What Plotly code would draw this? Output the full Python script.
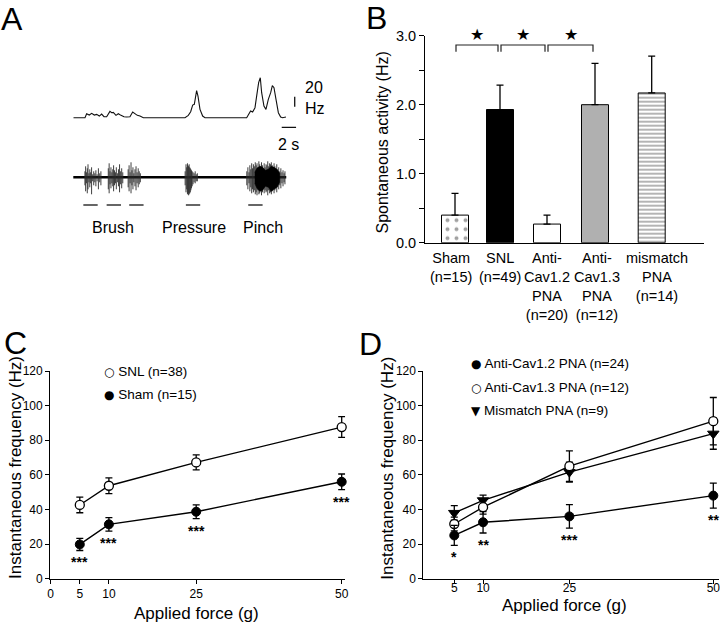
import plotly.graph_objects as go

W, H = 720, 624
FONT = "Liberation Sans, Arial, Helvetica, sans-serif"

# ---------------- Panel A data ----------------
# instantaneous firing rate (Hz) vs time (s)
RATE_T = [0, 1.63, 1.86, 2.23, 2.56, 2.93, 3.26, 3.63, 3.95, 4.28, 4.65, 5.11, 5.35, 5.58,
          5.95, 6.28, 6.65, 7.07, 7.44, 7.90, 8.28, 8.60, 8.93, 9.30, 9.77, 15.58, 16.04,
          16.37, 16.65, 16.88, 17.11, 17.20, 17.39, 17.67, 18.04, 18.37, 24.18, 24.50,
          24.73, 25.01, 25.34, 25.57, 25.85, 26.08, 26.27, 26.59, 26.87, 27.20, 27.53,
          27.76, 27.99, 28.27, 28.60, 28.92, 29.20, 29.66]
RATE_HZ = [0, 0, 8, 5.3, 8.7, 5.3, 6.7, 3.3, 7.3, 2, 2, 12.7, 10, 10.7,
           4.7, 8, 4.7, 2, 1.3, 2, 11.3, 7.3, 4.7, 3.3, 0, 0, 4.7,
           12, 25.3, 26.7, 43.3, 54, 43.3, 16.7, 3.3, 0, 0, 7.3,
           13.3, 11.3, 20, 43.3, 70, 80, 50, 23.3, 16.7, 36.7, 50,
           64, 60, 36.7, 10, 1.3, 0, 1.3]

# raw extracellular recording: individual spikes (time s, upward / downward deflection)
SPIKE_T = [1.62, 1.72, 1.83, 1.95, 2.05, 2.18, 2.30, 2.42, 2.55, 2.70, 2.85, 3.00, 3.15, 3.32, 3.50, 3.68, 3.85,
           4.88, 5.00, 5.12, 5.25, 5.38, 5.50, 5.62, 5.75, 5.88, 6.00, 6.15, 6.30, 6.45, 6.60, 6.75, 6.90,
           7.65, 7.78, 7.92, 8.05, 8.18, 8.32, 8.45, 8.60, 8.75, 8.90, 9.05, 9.20, 9.35,
           15.60, 15.72, 15.82, 15.92, 16.00, 16.08, 16.16, 16.24, 16.32, 16.40, 16.48, 16.58, 16.70,
           16.85, 17.00, 17.15, 17.30,
           24.20, 24.35, 24.50, 24.62, 24.75, 24.88, 25.00, 25.12, 25.25, 25.38, 25.50, 25.62, 25.75,
           25.88, 26.00, 26.12, 26.25, 26.38, 26.50, 26.62, 26.75, 26.88, 27.00, 27.12, 27.25, 27.38,
           27.50, 27.62, 27.75, 27.88, 28.00, 28.12, 28.25, 28.38, 28.50, 28.65, 28.80, 28.95, 29.10,
           29.25, 29.40, 29.52]
SPIKE_UP = [6, 11, 5, 9, 13, 4, 8, 5, 10, 3, 6, 4, 7, 3, 9, 4, 6,
            9, 14, 6, 10, 5, 8, 12, 7, 5, 10, 4, 8, 13, 6, 9, 5,
            8, 12, 5, 15, 7, 10, 4, 8, 11, 5, 9, 6, 4,
            6, 13, 10, 14, 12, 11, 13, 10, 9, 8, 7, 6, 5,
            4, 6, 3, 4,
            6, 10, 5, 12, 8, 14, 9, 13, 11, 15, 12, 14, 10,
            16, 13, 11, 15, 12, 9, 14, 10, 13, 12, 16, 11, 14,
            13, 15, 12, 10, 14, 11, 9, 13, 8, 10, 6, 9, 5,
            7, 4, 6]
SPIKE_DN = [8, 14, 6, 16, 12, 5, 10, 6, 17, 4, 8, 5, 9, 4, 12, 5, 8,
            12, 16, 7, 11, 6, 9, 14, 8, 6, 12, 5, 9, 15, 7, 11, 6,
            10, 14, 6, 16, 8, 12, 5, 9, 13, 6, 10, 7, 5,
            8, 15, 12, 17, 16, 18, 17, 16, 15, 13, 11, 9, 7,
            5, 6, 4, 4,
            8, 12, 6, 14, 10, 16, 12, 15, 13, 17, 15, 18, 13,
            17, 16, 14, 18, 15, 12, 16, 13, 15, 14, 18, 13, 16,
            15, 17, 14, 12, 16, 13, 11, 15, 10, 12, 8, 11, 6,
            9, 5, 7]
# dense (unresolved) part of the pinch response
PINCH_ENV_T = [25.3, 25.6, 26.0, 26.4, 26.8, 27.2, 27.6, 28.0, 28.4, 28.8]
PINCH_ENV_UP = [5, 9, 11, 10, 7, 8, 11, 10, 8, 4]
PINCH_ENV_DN = [6, 11, 14, 13, 9, 10, 14, 12, 10, 5]
RAW_START, RAW_END = -0.2, 29.7

STIM_START = [1.4, 4.65, 7.8, 15.7, 24.4]
STIM_DUR = 2.0
STIM_LABELS = ["Brush", "Pressure", "Pinch"]
STIM_LABEL_T = [5.6, 16.8, 26.5]
SCALE_HZ = 20
SCALE_S = 2

# ---------------- Panel B data ----------------
B_GROUPS = ["Sham", "SNL", "Anti-Cav1.2 PNA", "Anti-Cav1.3 PNA", "mismatch PNA"]
B_LABELS = ["Sham<br>(n=15)", "SNL<br>(n=49)", "Anti-<br>Cav1.2<br>PNA<br>(n=20)",
            "Anti-<br>Cav1.3<br>PNA<br>(n=12)", "mismatch<br>PNA<br>(n=14)"]
B_MEAN = [0.40, 1.93, 0.27, 2.00, 2.17]
B_SEM = [0.315, 0.355, 0.13, 0.60, 0.535]
B_SIG_PAIRS = [(0, 1), (1, 2), (2, 3)]

# ---------------- Panel C / D data ----------------
FORCE = [5, 10, 25, 50]
C_SNL_MEAN = [42.6, 53.7, 67.2, 87.6]
C_SNL_SEM = [4.5, 4.6, 4.3, 6.0]
C_SHAM_MEAN = [19.8, 31.4, 38.7, 56.0]
C_SHAM_SEM = [3.5, 3.9, 4.0, 4.5]
C_SIG = ["***", "***", "***", "***"]

D_CAV12_MEAN = [25.0, 32.6, 36.0, 48.0]
D_CAV12_SEM = [5.8, 6.2, 6.8, 7.2]
D_CAV13_MEAN = [31.6, 41.3, 65.0, 91.0]
D_CAV13_SEM = [4.0, 4.0, 8.8, 13.7]
D_MIS_MEAN = [38.0, 45.3, 61.6, 83.8]
D_MIS_SEM = [4.2, 3.0, 5.8, 9.0]
D_SIG = ["*", "**", "***", "**"]


# ---------------- helpers ----------------
def xd(a, b):
    return [a / W, b / W]


def yd(top, bottom):
    return [1 - bottom / H, 1 - top / H]


def px(x):
    return x / W


def py(y):
    return 1 - y / H


fig = go.Figure()
annotations = []


def text(xp, yp, s, size, xanchor="center", yanchor="middle", angle=0, family=FONT, **kw):
    annotations.append(dict(x=px(xp), y=py(yp), xref="paper", yref="paper", text=s,
                            showarrow=False, xanchor=xanchor, yanchor=yanchor, textangle=angle,
                            font=dict(size=size, family=family, color="black"), **kw))


# ---------------- Panel A ----------------
fig.add_trace(go.Scatter(x=RATE_T, y=RATE_HZ, xaxis="x", yaxis="y", mode="lines",
                         line=dict(color="#111", width=1.1), showlegend=False, hoverinfo="skip"))
# scale bars
SB_T = 29.07
fig.add_trace(go.Scatter(x=[SB_T, SB_T + SCALE_S], y=[-19.2, -19.2], xaxis="x", yaxis="y",
                         mode="lines", line=dict(color="#111", width=1.3), showlegend=False))
fig.add_trace(go.Scatter(x=[30.88, 30.88], y=[22, 22 + SCALE_HZ], xaxis="x", yaxis="y",
                         mode="lines", line=dict(color="#111", width=1.3), showlegend=False))

fig.add_trace(go.Scatter(x=[RAW_START, RAW_END], y=[0, 0], xaxis="x2", yaxis="y2", mode="lines",
                         line=dict(color="black", width=2.6), showlegend=False))
sx, sy = [], []
for t, u, d in zip(SPIKE_T, SPIKE_UP, SPIKE_DN):
    sx += [t, t, None]
    sy += [u, -d, None]
fig.add_trace(go.Scatter(x=sx, y=sy, xaxis="x2", yaxis="y2", mode="lines",
                         line=dict(color="#2a2a2a", width=0.9), showlegend=False))
fig.add_trace(go.Scatter(x=PINCH_ENV_T + PINCH_ENV_T[::-1],
                         y=PINCH_ENV_UP + [-v for v in PINCH_ENV_DN[::-1]],
                         xaxis="x2", yaxis="y2", mode="lines", fill="toself",
                         fillcolor="black", line=dict(color="black", width=0.5), showlegend=False))
bx, by = [], []
for s in STIM_START:
    bx += [s, s + STIM_DUR, None]
    by += [-27.7, -27.7, None]
fig.add_trace(go.Scatter(x=bx, y=by, xaxis="x2", yaxis="y2", mode="lines",
                         line=dict(color="#333", width=1.5), showlegend=False))
for lab, t in zip(STIM_LABELS, STIM_LABEL_T):
    annotations.append(dict(x=t, y=py(227.3), xref="x2", yref="paper", text=lab, showarrow=False,
                            xanchor="center", yanchor="middle",
                            font=dict(size=16, family=FONT, color="black")))
text(303, 88, "20", 16, xanchor="left")
text(303, 108, "Hz", 16, xanchor="left")
text(288.5, 144, "2 s", 16)

# ---------------- Panel B ----------------
BAR_POS = [30, 75, 122, 170, 226.7]
LABEL_POS = [25.8, 75, 121.7, 172.3, 231.5]
fig.add_trace(go.Bar(
    x=BAR_POS, y=B_MEAN, width=27, xaxis="x3", yaxis="y3", showlegend=False,
    name="Spontaneous activity", hovertext=B_GROUPS,
    marker=dict(color=["white", "black", "white", "#b0b0b0", "white"],
                line=dict(color="black", width=1),
                pattern=dict(shape=[".", "", "", "", "-"], fgcolor="black",
                             size=[9, 8, 8, 8, 4], solidity=[0.15, 0.3, 0.3, 0.3, 0.4],
                             fillmode="overlay")),
    error_y=dict(type="data", symmetric=False, array=B_SEM, arrayminus=[0] * len(B_SEM),
                 color="black", thickness=1.3, width=3.5)))
shapes = []
for i, j in B_SIG_PAIRS:
    x0, x1 = BAR_POS[i] + 1, BAR_POS[j] - 2
    shapes.append(dict(type="path", xref="x3", yref="y3",
                       path=f"M {x0},2.768 L {x0},2.865 L {x1},2.865 L {x1},2.768",
                       line=dict(color="#222", width=1.2)))
    annotations.append(dict(x=(x0 + x1) / 2, y=py(34), xref="x3", yref="paper", text="★",
                            showarrow=False, xanchor="center", yanchor="middle",
                            font=dict(size=16, family="DejaVu Sans", color="black")))
for lab, xpos in zip(B_LABELS, LABEL_POS):
    annotations.append(dict(x=xpos, y=py(247.5), xref="x3", yref="paper", text=lab,
                            showarrow=False, xanchor="center", yanchor="top", align="center",
                            font=dict(size=14.5, family=FONT, color="black")))
text(382, 142.5, "Spontaneous activity (Hz)", 16, angle=-90)


# ---------------- Panel C ----------------
def err(arr):
    return dict(type="data", array=arr, color="black", thickness=1.3, width=3.5)


def sym(ch):
    return f'<span style="font-family:DejaVu Sans;font-size:12px">{ch}</span>'


fig.add_trace(go.Scatter(x=FORCE, y=C_SHAM_MEAN, error_y=err(C_SHAM_SEM), xaxis="x4", yaxis="y4",
                         mode="lines+markers", name="Sham (n=15)", showlegend=False, cliponaxis=False,
                         line=dict(color="black", width=1.4),
                         marker=dict(symbol="circle", size=9, color="black",
                                     line=dict(color="black", width=1))))
fig.add_trace(go.Scatter(x=FORCE, y=C_SNL_MEAN, error_y=err(C_SNL_SEM), xaxis="x4", yaxis="y4",
                         mode="lines+markers", name="SNL (n=38)", showlegend=False, cliponaxis=False,
                         line=dict(color="black", width=1.4),
                         marker=dict(symbol="circle", size=9, color="white",
                                     line=dict(color="black", width=1.3))))
for f, m, s, sig in zip(FORCE, C_SHAM_MEAN, C_SHAM_SEM, C_SIG):
    annotations.append(dict(x=f, y=m - s, xref="x4", yref="y4", text=f"<b>{sig}</b>", showarrow=False,
                            xanchor="center", yanchor="middle", yshift=-12,
                            font=dict(size=14, family=FONT, color="black")))
text(102, 371.7, sym("○") + " SNL (n=38)", 13.5, xanchor="left")
text(102, 394.3, sym("●") + " Sham (n=15)", 13.5, xanchor="left")
text(15, 468, "Instantaneous frequency (Hz)", 17, angle=-90)
text(196.7, 613.3, "Applied force (g)", 17)

# ---------------- Panel D ----------------
fig.add_trace(go.Scatter(x=FORCE, y=D_MIS_MEAN, error_y=err(D_MIS_SEM), xaxis="x5", yaxis="y5",
                         mode="lines+markers", name="Mismatch PNA (n=9)", showlegend=False,
                         cliponaxis=False, line=dict(color="black", width=1.4),
                         marker=dict(symbol="triangle-down", size=10, color="black",
                                     line=dict(color="black", width=1))))
fig.add_trace(go.Scatter(x=FORCE, y=D_CAV13_MEAN, error_y=err(D_CAV13_SEM), xaxis="x5", yaxis="y5",
                         mode="lines+markers", name="Anti-Cav1.3 PNA (n=12)", showlegend=False,
                         cliponaxis=False, line=dict(color="black", width=1.4),
                         marker=dict(symbol="circle", size=9, color="white",
                                     line=dict(color="black", width=1.3))))
fig.add_trace(go.Scatter(x=FORCE, y=D_CAV12_MEAN, error_y=err(D_CAV12_SEM), xaxis="x5", yaxis="y5",
                         mode="lines+markers", name="Anti-Cav1.2 PNA (n=24)", showlegend=False,
                         cliponaxis=False, line=dict(color="black", width=1.4),
                         marker=dict(symbol="circle", size=9, color="black",
                                     line=dict(color="black", width=1))))
for f, m, s, sig in zip(FORCE, D_CAV12_MEAN, D_CAV12_SEM, D_SIG):
    annotations.append(dict(x=f, y=m - s, xref="x5", yref="y5", text=f"<b>{sig}</b>", showarrow=False,
                            xanchor="center", yanchor="middle", yshift=-12,
                            font=dict(size=14, family=FONT, color="black")))
text(468.5, 363.3, sym("●") + " Anti-Cav1.2 PNA (n=24)", 13.5, xanchor="left")
text(468.5, 387.3, sym("○") + " Anti-Cav1.3 PNA (n=12)", 13.5, xanchor="left")
text(468.5, 410, sym("▼") + " Mismatch PNA (n=9)", 13.5, xanchor="left")
text(386.7, 468, "Instantaneous frequency (Hz)", 17, angle=-90)
text(564, 605, "Applied force (g)", 17)

# ---------------- panel letters ----------------
text(12, 18.5, "A", 32)
text(376, 18, "B", 32)
text(15, 342.5, "C", 32)
text(371, 344, "D", 32)

# ---------------- layout ----------------
A_PPS = 7.17
A_X0, A_X1 = 73.3, 310
hidden = dict(visible=False, showgrid=False, zeroline=False, automargin=False)
ax_common = dict(showgrid=False, zeroline=False, showline=True, linecolor="black", linewidth=1,
                 ticks="outside", tickcolor="black", tickwidth=1, automargin=False,
                 ticklabeloverflow="allow",
                 tickfont=dict(size=12, family=FONT, color="black"))

C_X0, C_PPU = 50.7, 5.82
D_X0, D_PPU = 425.5, 5.756

fig.update_layout(
    width=W, height=H, margin=dict(l=0, r=0, t=0, b=0, pad=0, autoexpand=False),
    paper_bgcolor="white", plot_bgcolor="white",
    font=dict(family=FONT, color="black"),
    showlegend=False,
    xaxis=dict(domain=xd(A_X0, A_X1), range=[0, (A_X1 - A_X0) / A_PPS], anchor="y", **hidden),
    yaxis=dict(domain=yd(70, 135), range=[(117.7 - 135) * 2, (117.7 - 70) * 2], anchor="x", **hidden),
    xaxis2=dict(domain=xd(A_X0, A_X1), range=[0, (A_X1 - A_X0) / A_PPS], anchor="y2", **hidden),
    yaxis2=dict(domain=yd(150, 210), range=[-32.7, 27.3], anchor="x2", **hidden),
    xaxis3=dict(domain=xd(425, 704), range=[0, 279], anchor="y3", showgrid=False, zeroline=False,
                showline=True, linecolor="black", linewidth=1, ticks="", showticklabels=False,
                automargin=False),
    yaxis3=dict(domain=yd(35.7, 242.7), range=[0, 3], anchor="x3", ticklen=5,
                tickvals=[0, 0.5, 1, 1.5, 2, 2.5, 3],
                ticktext=["0.0", "", "1.0", "", "2.0", "", "3.0"],
                **{**ax_common, "tickfont": dict(size=14.5, family=FONT, color="black")}),
    xaxis4=dict(domain=xd(C_X0 - 0.1 * C_PPU, C_X0 + 50.6 * C_PPU), range=[-0.1, 50.6], anchor="y4",
                tickvals=[0, 5, 10, 25, 50], ticklen=4, **ax_common),
    yaxis4=dict(domain=yd(371, 578.7), range=[0, 120], anchor="x4", tickvals=[0, 20, 40, 60, 80, 100, 120],
                ticklen=4, **ax_common),
    xaxis5=dict(domain=xd(D_X0 - 0.38 * D_PPU, min(719.5, D_X0 + 51 * D_PPU)), range=[-0.38, 51.0],
                anchor="y5", tickvals=[5, 10, 25, 50], ticklen=4, ticklabelstandoff=-6, **ax_common),
    yaxis5=dict(domain=yd(371, 578.7), range=[0, 120], anchor="x5", tickvals=[0, 20, 40, 60, 80, 100, 120],
                ticklen=4, **ax_common),
    annotations=annotations,
    shapes=shapes,
)

fig.write_html("out.html", config={"displayModeBar": False},
               post_script="document.body.style.margin='0px';document.body.style.padding='0px';"
                           "document.documentElement.style.overflow='hidden';")
